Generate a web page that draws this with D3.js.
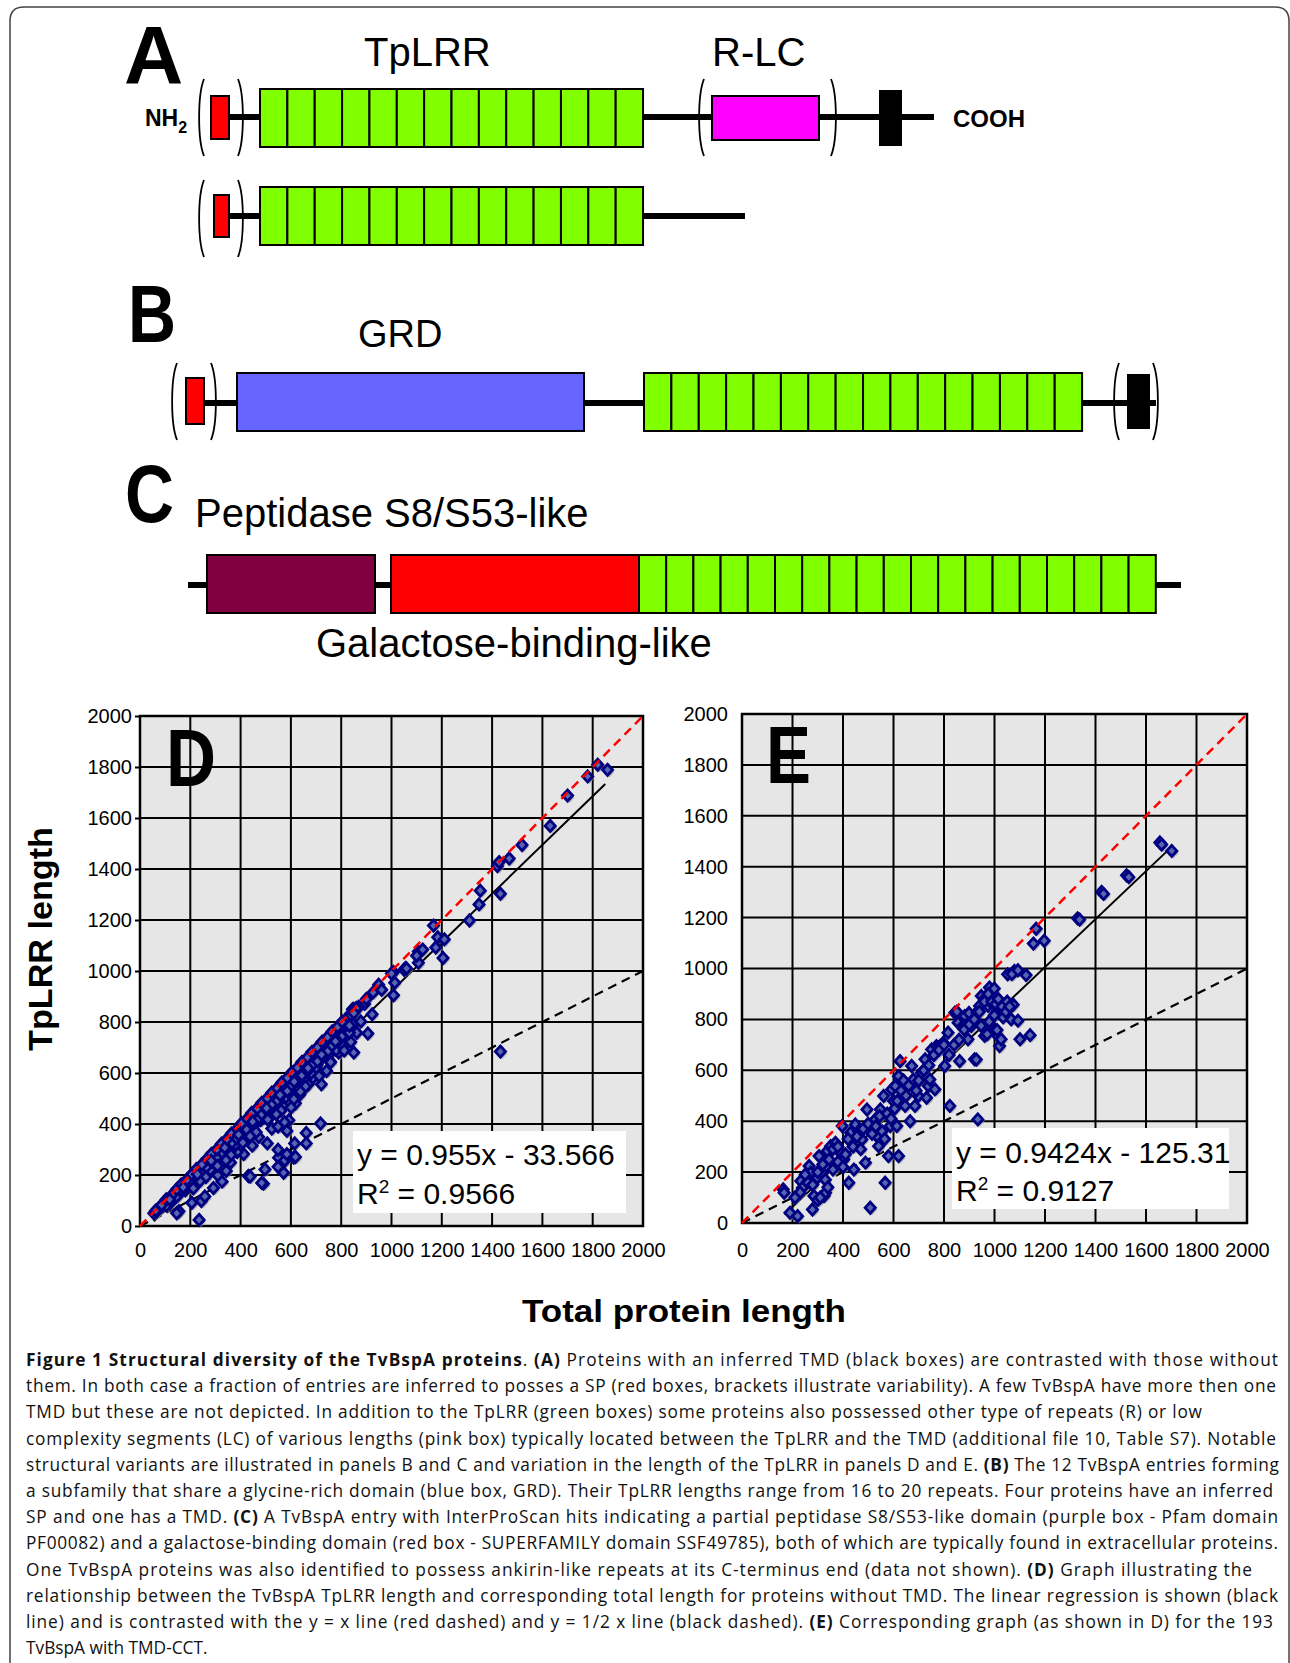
<!DOCTYPE html>
<html><head><meta charset="utf-8">
<script src="https://cdn.jsdelivr.net/npm/d3@7"></script>
<style>body{margin:0;background:#fff}svg{display:block}</style>
</head><body>
<svg id="fig" width="1290" height="1663"></svg>
<script>
// ---------------- DATA ----------------
const axisTicks = [0,200,400,600,800,1000,1200,1400,1600,1800,2000];
const tickLabels = axisTicks.map(String);
const panelLetters = ["A","B","C","D","E"];
const domainLabels = ["TpLRR","R-LC","GRD","Peptidase S8/S53-like","Galactose-binding-like"];
const tplrrRepeats = [14, 14, 16, 19];   // A (with TMD), A (no TMD), B, C
const axisTitles = ["TpLRR length","Total protein length"];
const equationD = ["y = 0.955x - 33.566","0.9566"];
const equationE = ["y = 0.9424x - 125.31","0.9127"];
const regressionD = [0.955, -33.566];   // slope, intercept
const regressionE = [0.9424, -125.31];
const regRangeD = [55, 1850];
const regRangeE = [168, 1695];

// Panel D: proteins without TMD  [total length, TpLRR length]
const pointsD = [
[1820,1809],[1859,1789],[1780,1763],[1700,1688],[1631,1569],[1519,1494],[1468,1441],[1421,1411],[1428,1427],
[1433,1303],[1353,1315],[1348,1261],[1310,1198],[1167,1178],[1184,1132],[1210,1124],[1176,1092],[1205,1051],
[1107,1076],[1124,1084],[1107,1032],[1056,1012],[1008,996],[1013,954],[1008,905],[949,946],[927,916],[961,926],
[893,871],[923,830],[906,755],[850,851],[1433,684],[850,680],[824,722],[721,556],[718,402],[615,324],[661,365],
[661,324],[592,415],[870,860],[900,890],[1000,990],[1050,1005],[1060,1010],[1100,1060],[820,810],[835,830],
[845,850],[855,845],[860,855],
[235,24],[244,98],[431,196],[491,166],[497,222],[571,209],[568,248],[611,268],[551,268],[438,194],[484,169],
[549,232],[618,271],[549,299],[575,257],[584,282],
[498,432],[524,382],[549,390],[575,407],[584,373],[506,324],[472,349],[446,315],[412,282],[386,290],[360,249],
[343,216],[326,174],[309,199],[292,149],[258,116],[206,91],[155,58],[146,50],[635,515],[652,539],[669,556],
[687,581],[635,589],[661,606],[755,647],[790,680],[772,714],[815,714],[747,697],[730,664],[704,631],[618,481],
[601,465],[566,473],[472,448],[446,382],[412,349],[378,315],
[55,50],[65,58],[70,62],[80,72],[90,78],[95,85],[100,92],[110,98],[115,95],[120,110],[130,118],[135,112],
[140,130],[150,138],[155,128],[160,150],[170,160],[175,150],[180,170],[190,178],[195,165],[200,192],[210,200],
[215,188],[220,210],[230,218],[235,205],[240,230],[250,240],[255,225],[260,250],[270,258],[275,245],[280,270],
[290,278],[295,262],[300,290],[310,298],[315,280],[320,310],[330,318],[335,300],[340,330],[350,338],[355,318],
[360,350],[370,358],[375,338],[380,370],[390,378],[395,355],[400,390],[410,398],[415,375],[420,410],[430,418],
[435,392],[440,430],[450,438],[455,410],[460,450],[470,458],[475,430],[480,470],[490,478],[495,450],[500,490],
[510,498],[515,468],[520,510],[530,518],[535,488],[540,530],[550,538],[555,505],[560,550],[570,558],[575,525],
[580,570],[590,578],[595,545],[600,590],[610,598],[615,565],[620,610],[630,618],[635,585],[640,630],[650,638],
[655,600],[660,650],[670,658],[675,620],[680,668],[690,676],[695,640],[700,688],[710,695],[715,660],[720,708],
[730,715],[735,680],[740,728],[750,735],[755,700],[760,748],[770,755],[775,720],[780,768],[790,775],[800,785],
[810,790],[820,805],[830,812],[840,825],[850,835],
[150,120],[200,165],[250,210],[300,255],[350,300],[400,345],[450,390],[500,440],[550,485],[600,530],[650,575],
[700,620],[750,670],[800,715],[120,90],[180,140],[280,220],[380,320],[480,415],[580,505],[680,600],[780,690],
[105,80],[127,101],[144,114],[166,141],[186,153],[204,179],[226,193],[246,216],[263,231],[286,252],[304,268],
[327,289],[344,306],[366,327],[384,344],[406,363],[424,378],[446,401],[466,416],[484,439],[506,453],[524,476],
[547,493],[563,514],[586,530],[604,553],[627,568],[644,591],[666,608],[684,630],[706,646],[724,669],[747,686],
[764,708],[786,723],[806,747],[824,763],[846,792],
[62,60],[86,83],[104,104],[126,121],[146,144],[164,163],[186,181],[206,203],[224,223],[246,241],[266,263],
[284,283],[306,301],[324,323],[346,341],[364,363],[386,381],[404,403],[426,421],[444,443],[466,461],[484,483],
[506,501],[524,523],[546,541],[564,563],[586,581],[604,603],[626,621],[644,643],[666,661],[684,683],[706,701],
[724,723],[746,741],[764,763],[786,781],[804,801],
[212,148],[262,192],[308,236],[362,279],[409,327],[462,368],[508,417],[561,453],[612,498],[658,547],[712,588],
[758,642],[812,688],[238,176],[342,258],[438,352],[542,438],[638,527],[742,608],[838,722],[862,758],[878,802],
[832,758],[118,104],[172,152],[228,203],[283,256],[337,307],[392,358],[448,409],[503,462],[557,514],[613,566],
[668,619],[722,672],[777,724],[833,786]
];

// Panel E: proteins with TMD-CCT  [total length, TpLRR length]
const pointsE = [
[163,132],[167,119],[190,40],[220,27],[233,165],[239,138],[266,224],[272,197],[279,53],[285,106],[298,178],
[305,263],[325,106],[331,119],[338,283],[318,197],[351,302],[370,315],[390,276],[397,381],[403,250],[423,158],
[430,355],[443,210],[449,387],[462,361],[475,328],[489,237],[495,446],[508,60],[528,407],[534,342],[541,302],
[548,446],[561,499],[567,158],[580,263],[587,381],[593,525],[600,479],[607,538],[613,381],[620,263],[620,577],
[626,636],[646,460],[666,400],[672,617],[679,564],[685,460],[698,499],[711,590],[725,643],[731,492],[738,538],
[744,564],[751,682],[764,525],[770,695],[784,695],[797,708],[803,617],[816,748],[823,460],[843,826],[856,787],
[862,636],[875,774],[882,813],[895,722],[908,774],[921,643],[928,826],[934,407],[941,853],[948,892],[961,735],
[974,853],[980,925],[987,879],[1000,761],[1007,826],[1013,735],[1020,695],[1039,826],[1052,977],[1066,800],
[1079,990],
[1655,1495],[1662,1487],[1702,1462],[1523,1366],[1532,1359],[1424,1301],[1432,1293],[1329,1197],[1337,1192],
[1165,1156],[1154,1098],[1197,1109],[1069,978],[1093,993],[1125,974],[999,921],[963,883],[987,866],[1018,854],
[1042,841],[1058,844],[1074,858],[1034,808],[1093,795],[1101,722],[1141,738],[1010,758],[1026,722],[971,742],
[947,775],[999,816],[979,791],[851,830],[899,825],[883,775],[931,825],[928,642],
[420,330],[440,300],[455,340],[470,290],[480,370],[500,390],[515,350],[530,380],[545,420],[555,360],[565,330],
[575,430],[590,410],[605,450],[615,480],[630,520],[640,560],[650,500],[660,540],[690,520],[700,560],[720,600],
[740,620],[760,660],[780,680],[800,700],[820,660],[840,700],[860,720],[880,760],[900,780],[920,800],[940,830],
[960,870],[975,900],[990,870],[1005,860],[1015,880],[1030,850],[1045,830],[1050,870],[1060,850],[300,200],
[320,230],[345,250],[360,290],[380,300],[260,160],[280,150],[250,190],[230,120],[210,100],[360,210],[380,240],
[400,220],[410,270],[330,170],[340,140],[300,90],[310,100]
];

const captionLines = [
 [["b","Figure 1 Structural diversity of the TvBspA proteins"],["n",". "],["b","(A)"],["n"," Proteins with an inferred TMD (black boxes) are contrasted with those without"]],
 [["n","them. In both case a fraction of entries are inferred to posses a SP (red boxes, brackets illustrate variability). A few TvBspA have more then one"]],
 [["n","TMD but these are not depicted. In addition to the TpLRR (green boxes) some proteins also possessed other type of repeats (R) or low"]],
 [["n","complexity segments (LC) of various lengths (pink box) typically located between the TpLRR and the TMD (additional file 10, Table S7). Notable"]],
 [["n","structural variants are illustrated in panels B and C and variation in the length of the TpLRR in panels D and E. "],["b","(B)"],["n"," The 12 TvBspA entries forming"]],
 [["n","a subfamily that share a glycine-rich domain (blue box, GRD). Their TpLRR lengths range from 16 to 20 repeats. Four proteins have an inferred"]],
 [["n","SP and one has a TMD. "],["b","(C)"],["n"," A TvBspA entry with InterProScan hits indicating a partial peptidase S8/S53-like domain (purple box - Pfam domain"]],
 [["n","PF00082) and a galactose-binding domain (red box - SUPERFAMILY domain SSF49785), both of which are typically found in extracellular proteins."]],
 [["n","One TvBspA proteins was also identified to possess ankirin-like repeats at its C-terminus end (data not shown). "],["b","(D)"],["n"," Graph illustrating the"]],
 [["n","relationship between the TvBspA TpLRR length and corresponding total length for proteins without TMD. The linear regression is shown (black"]],
 [["n","line) and is contrasted with the y = x line (red dashed) and y = 1/2 x line (black dashed). "],["b","(E)"],["n"," Corresponding graph (as shown in D) for the 193"]],
 [["n","TvBspA with TMD-CCT."]]
];

// ---------------- LAYOUT / STYLE ----------------
const FONT = "'Liberation Sans', Arial, Helvetica, sans-serif";
const CAPFONT = "'Open Sans', 'Noto Sans', sans-serif";
const COL = {green:"#80ff00", red:"#ff0000", magenta:"#ff00ff", blue:"#6666ff", purple:"#800040", navy:"#000080"};
const svg = d3.select("#fig");

// ---------------- SCATTER PANELS ----------------
function scatterPanel(cfg){
  const x=d3.scaleLinear().domain([0,2000]).range([cfg.x0,cfg.x1]);
  const y=d3.scaleLinear().domain([0,2000]).range([cfg.y0,cfg.y1]);
  const g=svg.append("g");
  const px0=x(0), px1=x(2000), py0=y(2000), py1=y(0);
  g.append("rect").attr("x",px0).attr("y",py0).attr("width",px1-px0).attr("height",py1-py0).attr("fill","#e6e6e6");
  const grid=g.append("g").attr("stroke","#000").attr("stroke-width",2);
  axisTicks.forEach(t=>{
    grid.append("line").attr("x1",x(t)).attr("x2",x(t)).attr("y1",py0).attr("y2",py1);
    grid.append("line").attr("x1",px0).attr("x2",px1).attr("y1",y(t)).attr("y2",y(t));
  });
  const bx=cfg.box;
  g.append("rect").attr("x",bx.left).attr("y",bx.top).attr("width",bx.right-bx.left).attr("height",bx.bottom-bx.top).attr("fill","#ffffff");
  g.append("rect").attr("x",px0).attr("y",py0).attr("width",px1-px0).attr("height",py1-py0).attr("fill","none").attr("stroke","#000").attr("stroke-width",2.5);
  const ya=g.append("g").attr("transform",`translate(${px0},0)`)
    .call(d3.axisLeft(y).tickValues(axisTicks).tickFormat((d,i)=>tickLabels[i]).tickSize(cfg.tick).tickPadding(cfg.ypad));
  const xa=g.append("g").attr("transform",`translate(0,${py1})`)
    .call(d3.axisBottom(x).tickValues(axisTicks).tickFormat((d,i)=>tickLabels[i]).tickSize(0).tickPadding(1257-py1-14));
  [ya,xa].forEach(a=>{a.select(".domain").remove(); a.attr("font-family",FONT).attr("font-size",20); a.selectAll("text").attr("fill","#000"); a.selectAll("line").attr("stroke","#000").attr("stroke-width",2);});
  const line=d3.line().x(d=>x(d[0])).y(d=>y(d[1]));
  g.append("path").attr("d",line([[0,0],[2000,1000]])).attr("stroke","#000").attr("stroke-width",2.2).attr("stroke-dasharray","9,6").attr("fill","none");
  const [m,b]=cfg.reg;
  g.append("path").attr("d",line(cfg.regRange.map(v=>[v,m*v+b]))).attr("stroke","#000").attr("stroke-width",2).attr("fill","none");
  const pts=g.append("g");
  const dia="M0,-5.6L5.1,0L0,5.6L-5.1,0Z";
  pts.selectAll("path.sh").data(cfg.points).join("path").attr("class","sh").attr("d",dia)
    .attr("transform",d=>`translate(${x(d[0])+1.8},${y(d[1])+2})`).attr("fill","#909090").attr("fill-opacity",0.6);
  pts.selectAll("path.pt").data(cfg.points).join("path").attr("class","pt").attr("d",dia)
    .attr("transform",d=>`translate(${x(d[0])},${y(d[1])})`).attr("fill","#5565b0").attr("stroke",COL.navy).attr("stroke-width",2.8);
  g.append("path").attr("d",line([[0,0],[2000,2000]])).attr("stroke",COL.red).attr("stroke-width",2.5).attr("stroke-dasharray","9,6").attr("fill","none");
  g.append("text").attr("x",cfg.eqx).attr("y",cfg.eqy[0]).attr("font-family",FONT).attr("font-size",30).attr("fill","#000").text(cfg.eq[0]);
  const t2=g.append("text").attr("x",cfg.eqx).attr("y",cfg.eqy[1]).attr("font-family",FONT).attr("font-size",30).attr("fill","#000");
  t2.append("tspan").text("R");
  t2.append("tspan").attr("font-size",19).attr("dy",-11).text("2");
  t2.append("tspan").attr("dy",11).text(" = "+cfg.eq[1]);
  g.append("text").attr("x",cfg.lx).attr("y",cfg.ly).attr("font-family",FONT).attr("font-size",82).attr("font-weight","bold")
    .attr("textLength",cfg.lw).attr("lengthAdjust","spacingAndGlyphs").text(cfg.letter);
}
scatterPanel({x0:140,x1:643,y0:1226,y1:716,points:pointsD,reg:regressionD,regRange:regRangeD,tick:5,ypad:3,
  box:{left:353,right:626,top:1131,bottom:1213},eq:equationD,eqx:357,eqy:[1165,1204],letter:panelLetters[3],lx:166,ly:786,lw:50});
scatterPanel({x0:742,x1:1247,y0:1223,y1:714,points:pointsE,reg:regressionE,regRange:regRangeE,tick:0,ypad:14,
  box:{left:952,right:1229,top:1128,bottom:1209},eq:equationE,eqx:956,eqy:[1163,1201],letter:panelLetters[4],lx:766,ly:783,lw:45});

svg.append("text").attr("transform","translate(52,939) rotate(-90)").attr("text-anchor","middle")
  .attr("font-family",FONT).attr("font-weight","bold").attr("font-size",33)
  .attr("textLength",224).attr("lengthAdjust","spacingAndGlyphs").text(axisTitles[0]);
svg.append("text").attr("x",684).attr("y",1322).attr("text-anchor","middle")
  .attr("font-family",FONT).attr("font-weight","bold").attr("font-size",31)
  .attr("textLength",324).attr("lengthAdjust","spacingAndGlyphs").text(axisTitles[1]);

// ---------------- DIAGRAM (A-C) ----------------
const dg = svg.append("g");
const cellW = 27.36;
function backbone(x0,x1,y){ dg.append("line").attr("x1",x0).attr("x2",x1).attr("y1",y).attr("y2",y).attr("stroke","#000").attr("stroke-width",6); }
function domainBox(x0,x1,y0,y1,fill){ dg.append("rect").attr("x",x0).attr("y",y0).attr("width",x1-x0).attr("height",y1-y0).attr("fill",fill).attr("stroke","#000").attr("stroke-width",2); }
function repeats(x0,n,y0,y1,w){
  dg.append("g").selectAll("rect").data(d3.range(n)).join("rect")
    .attr("x",i=>x0+i*w).attr("y",y0).attr("width",w).attr("height",y1-y0)
    .attr("fill",COL.green).attr("stroke","#000").attr("stroke-width",2);
  return x0+n*w;
}
function bracket(xo,y0,y1,dir){
  const tip = xo - dir*5, ctl = xo + dir*1.5;
  dg.append("path").attr("d",`M${tip},${y0} C${ctl},${y0+16} ${ctl},${y1-16} ${tip},${y1}`)
    .attr("fill","none").attr("stroke","#000").attr("stroke-width",1.8);
}
function label(t,x,y,size,weight,len){
  const el=dg.append("text").attr("x",x).attr("y",y).attr("font-family",FONT).attr("font-size",size).attr("font-weight",weight||"normal").attr("fill","#000").text(t);
  if(len) el.attr("textLength",len).attr("lengthAdjust","spacingAndGlyphs");
  return el;
}
label(panelLetters[0],124,83,82,"bold");
label(domainLabels[0],364,66,40);
label(domainLabels[1],712,66,40);
const nh=dg.append("text").attr("x",145).attr("y",126).attr("font-family",FONT).attr("font-size",23).attr("font-weight","bold");
nh.append("tspan").text("NH"); nh.append("tspan").attr("font-size",16).attr("dy",7).text("2");
backbone(229,260,117);
bracket(199,79,156,-1); bracket(243,79,156,1);
domainBox(211,229,96,139,COL.red);
let e1=repeats(260,tplrrRepeats[0],89,147,cellW);
backbone(e1,712,117);
bracket(699,79,156,-1); bracket(836,79,156,1);
domainBox(712,819,96,140,COL.magenta);
backbone(819,934,117);
domainBox(880,901,91,145,"#000");
label("COOH",953,127,24,"bold");
bracket(199,180,257,-1); bracket(243,180,257,1);
backbone(229,260,216);
domainBox(214,229,195,237,COL.red);
let e2=repeats(260,tplrrRepeats[1],187,245,cellW);
backbone(e2,745,216);
label(panelLetters[1],128,342,82,"bold",48);
label(domainLabels[2],358,347,38);
bracket(172,363,440,-1); bracket(216,363,440,1);
backbone(204,237,403);
domainBox(186,204,378,424,COL.red);
domainBox(237,584,373,431,COL.blue);
backbone(584,644,403);
let e3=repeats(644,tplrrRepeats[2],373,431,27.38);
backbone(e3,1156,403);
bracket(1114,363,440,-1); bracket(1158,363,440,1);
domainBox(1128,1149,375,428,"#000");
label(panelLetters[2],125,522,82,"bold",49);
label(domainLabels[3],195,527,40);
backbone(188,1181,585);
domainBox(207,375,555,613,COL.purple);
domainBox(391,639,555,613,COL.red);
repeats(639,tplrrRepeats[3],555,613,27.2);
label(domainLabels[4],316,657,40);

svg.append("path")
  .attr("d","M10,1663 L10,21 Q10,7 24,7 L1275,7 Q1289,7 1289,21 L1289,1663")
  .attr("fill","none").attr("stroke","#444").attr("stroke-width",1.5);

// ---------------- CAPTION ----------------
const lineEnds=[1278,1276,1202,1276,1279,1273,1278,1278,1252,1278,1273,null];
const cap=svg.append("g").attr("font-family",CAPFONT).attr("font-size",17.3).attr("fill","#111");
captionLines.forEach((segs,i)=>{
  const t=cap.append("text").attr("x",26).attr("y",1366+i*26.2);
  segs.forEach(s=>t.append("tspan").attr("font-weight",s[0]==="b"?"bold":"normal").text(s[1]));
  if(lineEnds[i]) t.attr("textLength",lineEnds[i]-26).attr("lengthAdjust","spacing");
});
</script>
</body></html>
